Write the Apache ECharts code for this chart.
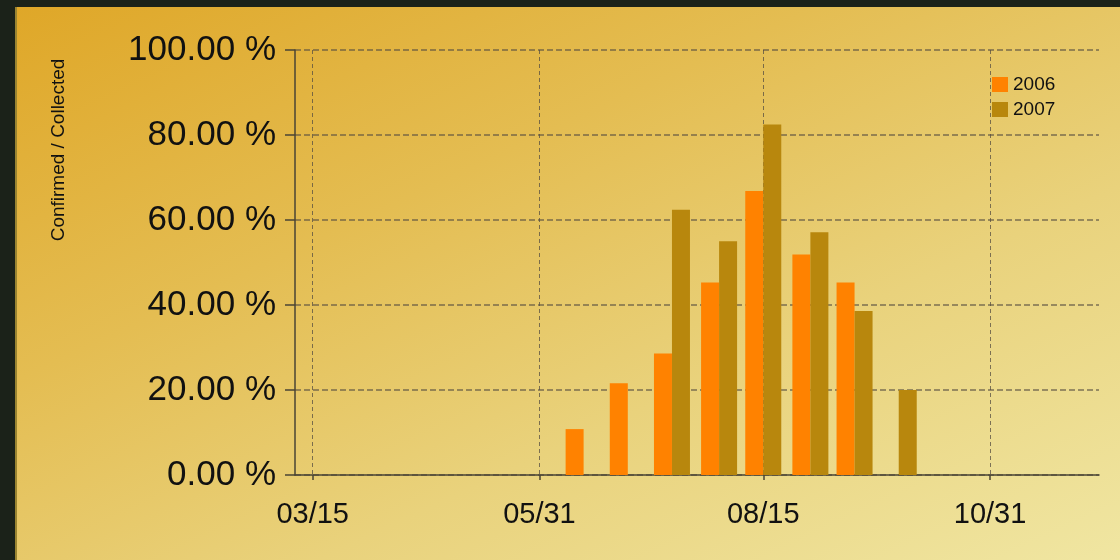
<!DOCTYPE html>
<html>
<head>
<meta charset="utf-8">
<script src="https://cdn.jsdelivr.net/npm/echarts@6/dist/echarts.min.js"></script>
<style>
  html, body { margin: 0; padding: 0; width: 1120px; height: 560px; overflow: hidden; background: #1b2219; }
  #bg { position: absolute; left: 15px; top: 7px; width: 1105px; height: 553px;
        background: linear-gradient(155deg, #dfa728 0%, #e4bd52 35%, #e9d27c 65%, #f0e6a2 100%);
        box-shadow: inset 2px 0 0 #9a8430; }
  #chart { position: absolute; left: 0; top: 0; width: 1120px; height: 560px; }
</style>
</head>
<body>
<div id="bg"></div>
<div id="chart"></div>
<script>
// ---- data ----
const categories = ['06/15', '06/30', '07/15', '07/31', '08/15', '08/31', '09/15', '09/30'];
const series2006 = [10.8, 21.6, 28.6, 45.3, 66.8, 51.9, 45.3, null];
const series2007 = [null, null, 62.4, 55.0, 82.5, 57.1, 38.6, 20.0];
const seriesNames = ['2006', '2007'];
const xTicks = ['03/15', '05/31', '08/15', '10/31'];
const xRange = ['03/09', '12/07'];
const yTitle = 'Confirmed / Collected';

// day-of-year helpers (non-leap reference year)
const DAY = 86400000;
const toDay = s => { const p = s.split('/'); return Math.round((Date.UTC(2007, +p[0] - 1, +p[1]) - Date.UTC(2007, 0, 1)) / DAY); };
const pad = n => (n < 10 ? '0' : '') + n;
const fmtDay = v => { const d = new Date(Date.UTC(2007, 0, 1) + Math.round(v) * DAY); return pad(d.getUTCMonth() + 1) + '/' + pad(d.getUTCDate()); };
const xTickDays = xTicks.map(toDay);

const chart = echarts.init(document.getElementById('chart'));
const axisColor = '#4a4434';
const gridColor = 'rgba(85,78,66,0.75)';
const font = 'Liberation Sans, Arial, sans-serif';

chart.setOption({
  backgroundColor: 'transparent',
  animation: false,
  textStyle: { fontFamily: font },
  grid: { left: 295, right: 21, top: 50, bottom: 85, containLabel: false },
  legend: {
    orient: 'vertical', left: 992, top: 75, padding: 0,
    itemWidth: 16, itemHeight: 15, itemGap: 6,
    icon: 'rect',
    textStyle: { fontSize: 19, color: '#111', fontFamily: font },
    data: seriesNames
  },
  graphic: [{
    type: 'text', x: 59, y: 150, rotation: Math.PI / 2,
    style: { text: yTitle, fontSize: 19, fill: '#111', fontFamily: font, align: 'center', verticalAlign: 'middle' }
  }],
  xAxis: {
    type: 'value',
    min: toDay(xRange[0]), max: toDay(xRange[1]),
    axisLine: { show: true, onZero: false, lineStyle: { color: axisColor, width: 1.5 } },
    axisTick: { show: true, length: 5, lineStyle: { color: axisColor, width: 1.5 }, customValues: xTickDays },
    axisLabel: { fontSize: 29, color: '#111', margin: 25, customValues: xTickDays, formatter: v => fmtDay(v), showMinLabel: true, showMaxLabel: true },
    splitLine: { show: true, lineStyle: { color: gridColor, type: [4, 3], width: 1 } }
  },
  yAxis: {
    type: 'value', min: 0, max: 100, interval: 20,
    axisLine: { show: true, lineStyle: { color: axisColor, width: 1.5 } },
    axisTick: { show: true, length: 10, lineStyle: { color: axisColor, width: 1.5 } },
    axisLabel: { fontSize: 35, color: '#111', margin: 19, formatter: v => v.toFixed(2) + ' %' },
    splitLine: { show: true, lineStyle: { color: gridColor, type: [6, 3], width: 1.5 } }
  },
  series: [
    { name: seriesNames[0], type: 'bar', barWidth: 18, barGap: '0%',
      itemStyle: { color: '#ff8200' },
      data: categories.map((c, i) => [toDay(c), series2006[i]]) },
    { name: seriesNames[1], type: 'bar', barWidth: 18, barGap: '0%',
      itemStyle: { color: '#b8870d' },
      data: categories.map((c, i) => [toDay(c), series2007[i]]) }
  ]
});
</script>
</body>
</html>
